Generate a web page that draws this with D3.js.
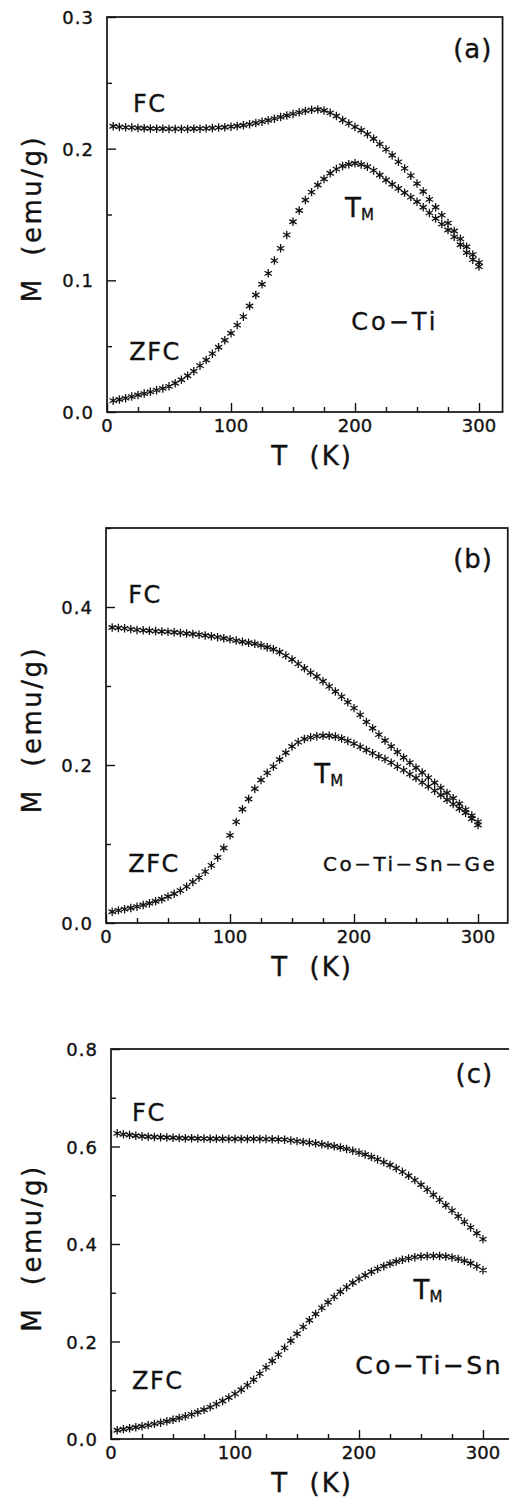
<!DOCTYPE html>
<html>
<head>
<meta charset="utf-8">
<script src="https://cdn.jsdelivr.net/npm/d3@7"></script>
<style>
  body { margin: 0; background: #fff; }
  text { font-family: "DejaVu Sans", sans-serif; fill: #111; stroke: #111; stroke-width: 0.35; }
</style>
</head>
<body>
<div id="chart"></div>
<script>
// temperatures (K) shared by all six curves
const temps = [5, 10, 15, 20, 25, 30, 35, 40, 45, 50, 55, 60, 65, 70, 75, 80, 85, 90, 95, 100,
  105, 110, 115, 120, 125, 130, 135, 140, 145, 150, 155, 160, 165, 170, 175, 180, 185, 190, 195, 200,
  205, 210, 215, 220, 225, 230, 235, 240, 245, 250, 255, 260, 265, 270, 275, 280, 285, 290, 295, 300];

// (a) Co-Ti
const fcA = [.2170, .2165, .2162, .2160, .2157, .2155, .2153, .2152, .2151, .2150, .2150, .2150, .2150, .2151, .2152, .2154, .2157, .2160, .2163, .2167,
  .2172, .2178, .2186, .2195, .2205, .2216, .2228, .2240, .2252, .2264, .2276, .2287, .2295, .2298, .2290, .2272, .2248, .2218, .2192, .2165,
  .2140, .2110, .2075, .2035, .1995, .1950, .1900, .1850, .1795, .1735, .1675, .1615, .1555, .1495, .1435, .1375, .1315, .1255, .1195, .1135];
const zfcA = [.0086, .0095, .0105, .0117, .0129, .0140, .0153, .0166, .0179, .0195, .0218, .0245, .0275, .0310, .0352, .0395, .0443, .0492, .0545, .0598,
  .0660, .0724, .0805, .0889, .0970, .1053, .1150, .1243, .1345, .1445, .1530, .1610, .1670, .1724, .1770, .1813, .1845, .1868, .1882, .1889,
  .1880, .1863, .1835, .1800, .1762, .1730, .1698, .1665, .1632, .1597, .1555, .1512, .1470, .1427, .1382, .1330, .1270, .1210, .1157, .1104];

// (b) Co-Ti-Sn-Ge
const fcB = [.3740, .3735, .3730, .3720, .3710, .3705, .3700, .3695, .3690, .3685, .3680, .3672, .3665, .3658, .3650, .3640, .3630, .3618, .3605, .3590,
  .3575, .3560, .3548, .3535, .3515, .3490, .3465, .3430, .3385, .3335, .3280, .3225, .3170, .3120, .3060, .2995, .2930, .2865, .2795, .2720,
  .2635, .2545, .2465, .2385, .2310, .2235, .2165, .2095, .2030, .1965, .1905, .1840, .1775, .1710, .1645, .1580, .1510, .1435, .1360, .1280];
const zfcB = [.0143, .0160, .0175, .0190, .0207, .0228, .0250, .0275, .0300, .0335, .0370, .0410, .0460, .0520, .0575, .0650, .0730, .0830, .0950, .1110,
  .1280, .1440, .1570, .1700, .1810, .1900, .1980, .2070, .2155, .2235, .2290, .2330, .2350, .2365, .2370, .2370, .2360, .2335, .2305, .2270,
  .2230, .2190, .2150, .2110, .2075, .2030, .1980, .1935, .1885, .1835, .1780, .1730, .1675, .1620, .1560, .1505, .1450, .1395, .1320, .1240];

// (c) Co-Ti-Sn
const fcC = [.6270, .6250, .6235, .6220, .6210, .6200, .6195, .6190, .6185, .6180, .6175, .6170, .6170, .6165, .6162, .6160, .6160, .6158, .6156, .6155,
  .6155, .6155, .6155, .6155, .6152, .6150, .6145, .6140, .6125, .6110, .6095, .6080, .6065, .6045, .6025, .6005, .5980, .5950, .5915, .5875,
  .5835, .5785, .5735, .5680, .5620, .5555, .5480, .5400, .5310, .5215, .5115, .5010, .4905, .4795, .4685, .4570, .4455, .4340, .4220, .4100];
const zfcC = [.0180, .0200, .0220, .0240, .0262, .0285, .0310, .0335, .0365, .0395, .0430, .0465, .0505, .0550, .0600, .0655, .0715, .0780, .0850, .0925,
  .1010, .1105, .1215, .1340, .1470, .1600, .1730, .1870, .2015, .2160, .2300, .2435, .2565, .2690, .2805, .2915, .3020, .3115, .3205, .3285,
  .3360, .3430, .3490, .3545, .3595, .3640, .3675, .3705, .3730, .3745, .3752, .3755, .3755, .3745, .3725, .3695, .3655, .3605, .3540, .3465];

// ticks
const xMajor = [0, 100, 200, 300];
const xMinor = [25, 50, 75, 125, 150, 175, 225, 250, 275];
const yMajorA = [0, 0.1, 0.2, 0.3], yMinorA = [0.05, 0.15, 0.25];
const yMajorB = [0, 0.2, 0.4], yMinorB = [0.1, 0.3, 0.5];
const yMajorC = [0, 0.2, 0.4, 0.6, 0.8], yMinorC = [0.1, 0.3, 0.5, 0.7];

const width = 509, height = 1499;

const panels = [
  { tag: "(a)", fc: fcA, zfc: zfcA, yMax: 0.3, xMax: 319, yMajor: yMajorA, yMinor: yMinorA,
    left: 107, top: 17, bottom: 412,
    notes: { tag: [295, .269], fc: [21, .228], zfc: [18, .0395], tm: [192, .148], name: [197, .0623] },
    name: "Co−Ti", nameSize: 24, nameSpacing: 3 },
  { tag: "(b)", fc: fcB, zfc: zfcB, yMax: 0.5, xMax: 324, yMajor: yMajorB, yMinor: yMinorB,
    left: 106, top: 528, bottom: 923,
    notes: { tag: [296, .449], fc: [18, .405], zfc: [18, .0646], tm: [168, .177], name: [175, .0658] },
    name: "Co−Ti−Sn−Ge", nameSize: 20, nameSpacing: 2.5 },
  { tag: "(c)", fc: fcC, zfc: zfcC, yMax: 0.8, xMax: 322, yMajor: yMajorC, yMinor: yMinorC,
    left: 111, top: 1049, bottom: 1439,
    notes: { tag: [293, .731], fc: [17, .652], zfc: [17, .1026], tm: [244, .288], name: [197, .1333] },
    name: "Co−Ti−Sn", nameSize: 25, nameSpacing: 2.5 }
];

const svg = d3.select("#chart").append("svg")
  .attr("width", width)
  .attr("height", height)
  .style("background", "#fff");

const star = d3.symbol().type(d3.symbolAsterisk).size(50);

panels.forEach(p => {
  const x = d3.scaleLinear().domain([0, p.xMax]).range([p.left, p.left + p.xMax * 1.24]);
  const y = d3.scaleLinear().domain([0, p.yMax]).range([p.bottom, p.top]);
  const g = svg.append("g");

  // frame
  g.append("rect")
    .attr("x", x(0)).attr("y", y(p.yMax))
    .attr("width", x(p.xMax) - x(0)).attr("height", y(0) - y(p.yMax))
    .attr("fill", "none").attr("stroke", "#111").attr("stroke-width", 1.7);

  // inward ticks on bottom and left
  g.append("g").attr("transform", `translate(0,${y(0)})`)
    .call(d3.axisTop(x).tickValues(xMajor).tickSize(9).tickFormat(""));
  g.append("g").attr("transform", `translate(0,${y(0)})`)
    .call(d3.axisTop(x).tickValues(xMinor).tickSize(5).tickFormat(""));
  g.append("g").attr("transform", `translate(${x(0)},0)`)
    .call(d3.axisRight(y).tickValues(p.yMajor).tickSize(9).tickFormat(""));
  g.append("g").attr("transform", `translate(${x(0)},0)`)
    .call(d3.axisRight(y).tickValues(p.yMinor).tickSize(5).tickFormat(""));
  g.selectAll(".domain").remove();
  g.selectAll(".tick line").attr("stroke", "#111").attr("stroke-width", 1.4);

  // tick labels
  g.selectAll(".xlab").data(xMajor).join("text")
    .attr("x", d => x(d)).attr("y", y(0) + 20)
    .attr("text-anchor", "middle").attr("font-size", 18)
    .text(d => d);
  g.selectAll(".ylab").data(p.yMajor).join("text")
    .attr("x", x(0) - 13).attr("y", d => y(d) + 7)
    .attr("text-anchor", "end").attr("font-size", 18).attr("letter-spacing", 1)
    .text(d => d3.format(".1f")(d));

  // axis titles
  g.append("text")
    .attr("x", 312).attr("y", y(0) + 53)
    .attr("text-anchor", "middle").attr("font-size", 26).attr("letter-spacing", 2)
    .attr("xml:space", "preserve")
    .text("T  (K)");
  g.append("text")
    .attr("transform", `translate(41,${(y(0) + y(p.yMax)) / 2 + 4}) rotate(-90)`)
    .attr("text-anchor", "middle").attr("font-size", 26).attr("letter-spacing", 2.5)
    .attr("xml:space", "preserve")
    .text("M  (emu/g)");

  // data
  [p.fc, p.zfc].forEach(series => {
    g.append("g").selectAll("path")
      .data(temps.map((t, i) => [t, series[i]]))
      .join("path")
      .attr("transform", d => `translate(${x(d[0])},${y(d[1])})`)
      .attr("d", star)
      .attr("fill", "none")
      .attr("stroke", "#111")
      .attr("stroke-width", 1.3);
  });

  // annotations
  const n = p.notes;
  g.append("text").attr("x", x(n.tag[0])).attr("y", y(n.tag[1]))
    .attr("text-anchor", "middle").attr("font-size", 26).attr("letter-spacing", 1).text(p.tag);
  g.append("text").attr("x", x(n.fc[0])).attr("y", y(n.fc[1]))
    .attr("font-size", 24).attr("letter-spacing", 1.5).text("FC");
  g.append("text").attr("x", x(n.zfc[0])).attr("y", y(n.zfc[1]))
    .attr("font-size", 24).attr("letter-spacing", 1.5).text("ZFC");
  const tm = g.append("text").attr("x", x(n.tm[0])).attr("y", y(n.tm[1])).attr("font-size", 26);
  tm.append("tspan").text("T");
  tm.append("tspan").attr("font-size", 15).attr("dy", 3).text("M");
  g.append("text").attr("x", x(n.name[0])).attr("y", y(n.name[1]))
    .attr("font-size", p.nameSize).attr("letter-spacing", p.nameSpacing).text(p.name);
});
</script>
</body>
</html>
